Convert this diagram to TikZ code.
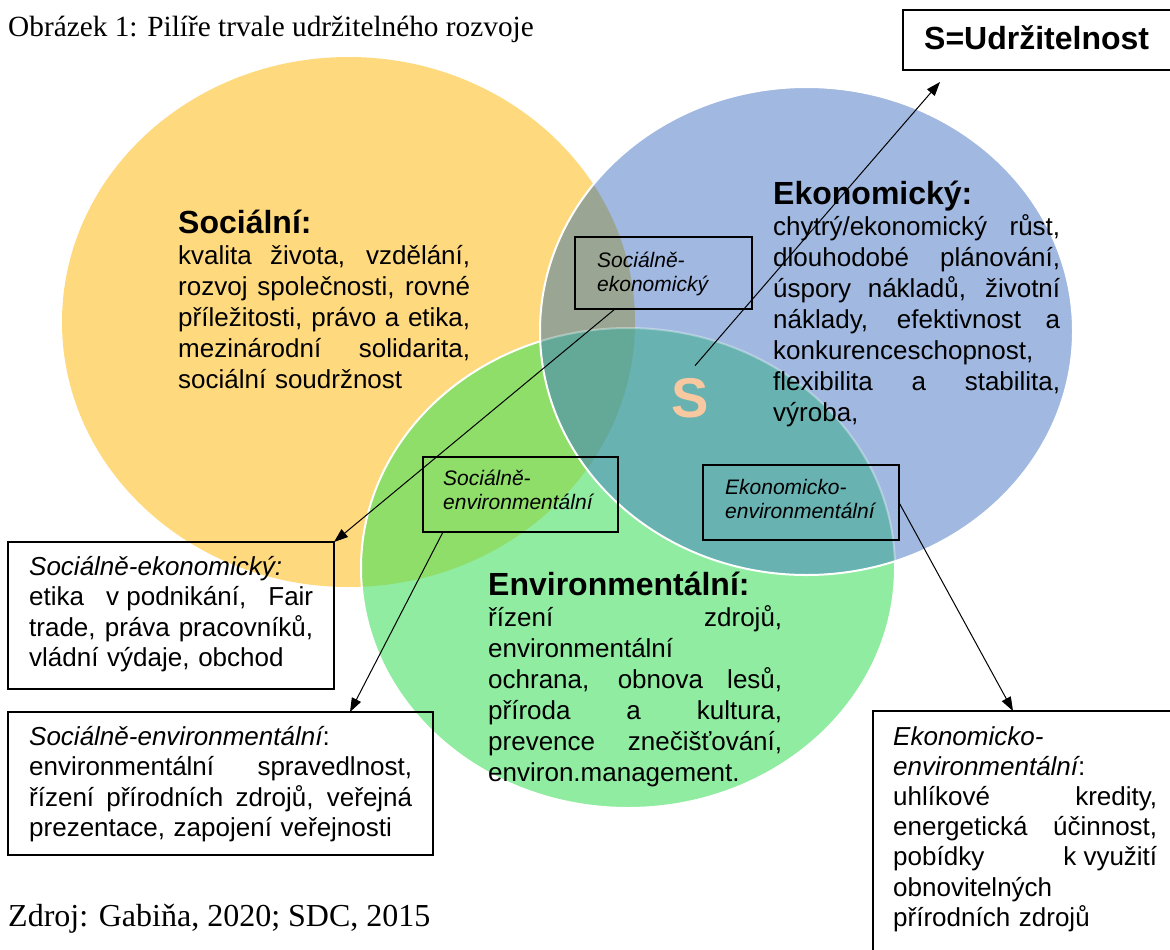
\documentclass[tikz,border=0pt]{standalone}
\usepackage{fontspec}
\setmainfont{Liberation Sans}
\newfontfamily\serifcap{Liberation Serif}
\usetikzlibrary{arrows.meta,calc}
\definecolor{cyel}{RGB}{255,217,126}
\definecolor{cblu}{RGB}{161,184,225}
\definecolor{cgrn}{RGB}{144,236,160}
\definecolor{cyb}{RGB}{155,165,148}
\definecolor{cyg}{RGB}{143,222,106}
\definecolor{cbg}{RGB}{104,178,178}
\definecolor{cybg}{RGB}{100,168,152}
\definecolor{cS}{RGB}{248,200,160}
\newlength{\jw}
\newcommand{\jl}[1]{\makebox[\jw][s]{\spaceskip=0pt\xspaceskip=0pt #1}}
\hyphenpenalty=10000
\begin{document}
\begin{tikzpicture}[x=1pt,y=-1pt,
  elY/.style={insert path={(348.5,322) ellipse [x radius=286.5, y radius=265]}},
  elB/.style={insert path={(806.5,331) ellipse [x radius=266.5, y radius=244]}},
  elG/.style={insert path={(628,568) ellipse [x radius=267, y radius=240]}},
  bodytext/.style={inner sep=0pt, anchor=base west, align=left, font=\fontsize{26}{31}\selectfont},
  boxtext/.style={inner sep=0pt, anchor=base west, align=left, font=\fontsize{26}{30.6}\selectfont},
  smalltext/.style={inner sep=0pt, anchor=base west, align=left, font=\itshape\fontsize{21}{24}\selectfont},
  frame/.style={draw=black, line width=1.2pt, anchor=north west, inner sep=0pt, outer sep=0pt},
  arr/.style={-{Triangle[length=14pt,width=10pt]}, line width=1pt, draw=black},
  capt/.style={inner sep=0pt, anchor=base west},
]
\useasboundingbox (0,0) rectangle (1170,950);
\clip (0,0) rectangle (1170,950);
\fill[white] (0,0) rectangle (1170,950);

% circles
\fill[cyel, elY];
\fill[cgrn, elG];
\begin{scope}
  \clip[elY];
  \fill[cyg, elG];
\end{scope}
\draw[white, line width=2pt, elG];
\fill[cblu, elB];
\begin{scope}
  \clip[elB];
  \fill[cyb, elY];
  \fill[cbg, elG];
  \begin{scope}
    \clip[elY];
    \fill[cybg, elG];
  \end{scope}
  \draw[white, opacity=0.35, line width=2pt, elG];
\end{scope}
\draw[white, line width=2pt, elB];

% captions
\node[capt, font=\serifcap\fontsize{29.3}{34}\selectfont] (title) at (8,37) {Obrázek 1: Pilíře trvale udržitelného rozvoje};
\node[capt, font=\serifcap\fontsize{32}{36}\selectfont] (src) at (8,926) {Zdroj: Gabiňa, 2020; SDC, 2015};

% S = Udrzitelnost box
\node[frame, minimum width=272pt, minimum height=60pt] (sbox) at (903,10) {};
\node[inner sep=0pt, anchor=base west, font=\bfseries\fontsize{32}{34}\selectfont] (stext) at (924,50) {S=Udržitelnost};

% pillar texts
\node[bodytext, text width=292pt] (soc) at (178,233) {\setlength{\jw}{292pt}%
{\bfseries\fontsize{32}{31}\selectfont Sociální:}\\
\jl{kvalita života, vzdělání,}\\
\jl{rozvoj společnosti, rovné}\\
\jl{příležitosti, právo a etika,}\\
\jl{mezinárodní solidarita,}\\
\mbox{sociální soudržnost}};

\node[bodytext, text width=287pt] (eko) at (773,204) {\setlength{\jw}{287pt}%
{\bfseries\fontsize{32}{31}\selectfont Ekonomický:}\\
\jl{chytrý/ekonomický růst,}\\
\jl{dlouhodobé plánování,}\\
\jl{úspory nákladů, životní}\\
\jl{náklady, efektivnost a}\\
\mbox{konkurenceschopnost,}\\
\jl{flexibilita a stabilita,}\\
\mbox{výroba,}};

\node[bodytext, text width=294pt] (env) at (488,595) {\setlength{\jw}{294pt}%
{\bfseries\fontsize{32}{31}\selectfont Environmentální:}\\
\jl{řízení zdrojů,}\\
\mbox{environmentální}\\
\jl{ochrana, obnova lesů,}\\
\jl{příroda a kultura,}\\
\jl{prevence znečišťování,}\\
\mbox{environ.management.}};

% central S
\node[inner sep=0pt, anchor=base, text=cS, font=\bfseries\fontsize{56}{60}\selectfont] (S) at (690,417) {S};

% small overlap boxes
\node[frame, minimum width=177pt, minimum height=72pt] (soce) at (575,237) {};
\node[smalltext, text width=150pt] (socet) at (597,267) {Sociálně-\\ekonomický};
\node[frame, minimum width=195pt, minimum height=75pt] (soenv) at (423,457) {};
\node[smalltext, text width=170pt] (soenvt) at (443,485) {Sociálně-\\environmentální};
\node[frame, minimum width=196pt, minimum height=75pt] (eken) at (703,465) {};
\node[smalltext, text width=170pt] (ekent) at (725,494) {Ekonomicko-\\environmentální};

% explanation boxes
\node[frame, minimum width=326pt, minimum height=147pt] (boxA) at (8,542) {};
\node[boxtext, text width=284pt] (boxAt) at (29,575) {\setlength{\jw}{284pt}%
\mbox{\itshape Sociálně-ekonomický:}\\
\jl{etika \mbox{v podnikání,} Fair}\\
\jl{trade, práva pracovníků,}\\
\mbox{vládní výdaje, obchod}};

\node[frame, minimum width=425pt, minimum height=143pt] (boxB) at (8,712) {};
\node[boxtext, text width=383pt] (boxBt) at (29,745) {\setlength{\jw}{383pt}%
\mbox{{\itshape Sociálně-environmentální}:}\\
\jl{environmentální spravedlnost,}\\
\jl{řízení přírodních zdrojů, veřejná}\\
\mbox{prezentace, zapojení veřejnosti}};

\node[frame, minimum width=310pt, minimum height=260pt] (boxC) at (873,711) {};
\node[boxtext, text width=264pt, font=\fontsize{26}{30.2}\selectfont] (boxCt) at (893,745) {\setlength{\jw}{264pt}%
\mbox{\itshape Ekonomicko-}\\
\mbox{{\itshape environmentální}:}\\
\jl{uhlíkové kredity,}\\
\jl{energetická účinnost,}\\
\jl{pobídky \mbox{k využití}}\\
\mbox{obnovitelných}\\
\mbox{přírodních zdrojů}};

% connectors
\draw[arr] ([xshift=5pt,yshift=12pt]S.north) -- ([xshift=37pt,yshift=-12pt]sbox.south west);
\draw[arr] ([xshift=40pt]soce.south west) -- (boxA.north east);
\draw[arr] ([xshift=20pt]soenv.south west) -- ([xshift=342pt]boxB.north west);
\draw[arr] (eken.east) -- ([xshift=140pt]boxC.north west);
\end{tikzpicture}
\end{document}
